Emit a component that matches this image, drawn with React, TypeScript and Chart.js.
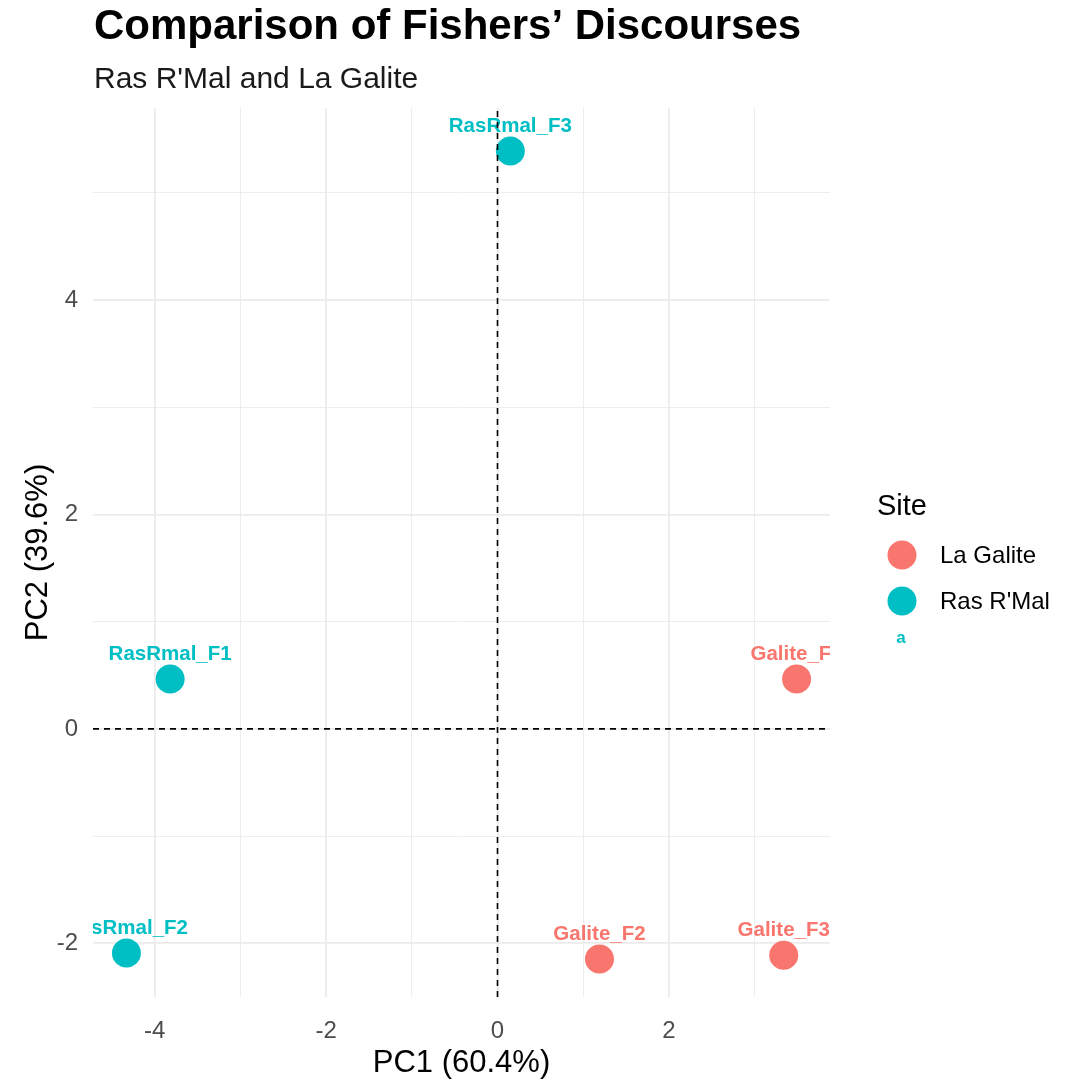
import React, { useEffect, useRef } from 'react';
import { Chart, registerables } from 'chart.js';

Chart.register(...registerables);

// ---- data ----
const siteNames = ['La Galite', "Ras R'Mal"];
const siteColors = ['#F8766D', '#00BFC4'];
const galiteLabels = ['Galite_F1', 'Galite_F2', 'Galite_F3'];
const galiteX = [3.49, 1.19, 3.34];
const galiteY = [0.466, -2.145, -2.11];
const rasLabels = ['RasRmal_F1', 'RasRmal_F2', 'RasRmal_F3'];
const rasX = [-3.82, -4.33, 0.15];
const rasY = [0.466, -2.09, 5.39];
const xLimits = [-4.72, 3.88];
const yLimits = [-2.5, 5.79];
const titleText = 'Comparison of Fishers\u2019 Discourses';
const subtitleText = "Ras R'Mal and La Galite";
const xTitle = 'PC1 (60.4%)';
const yTitle = 'PC2 (39.6%)';
const legendTitle = 'Site';
const legendKeyText = 'a';

const FONT = "'Liberation Sans', Arial, Helvetica, sans-serif";

const toPoints = (xs: number[], ys: number[]) => xs.map((x, i) => ({ x, y: ys[i] }));

const pointLabelPlugin = {
  id: 'pointLabels',
  afterDatasetDraw(chart: any, args: any) {
    const ds = chart.data.datasets[args.index];
    if (!ds.pointLabels) return;
    const { ctx, chartArea } = chart;
    ctx.save();
    ctx.beginPath();
    ctx.rect(chartArea.left, chartArea.top, chartArea.right - chartArea.left, chartArea.bottom - chartArea.top);
    ctx.clip();
    ctx.font = `bold 20.5px ${FONT}`;
    ctx.fillStyle = ds.backgroundColor;
    ctx.textAlign = 'center';
    ctx.textBaseline = 'middle';
    args.meta.data.forEach((el: any, i: number) => {
      ctx.fillText(ds.pointLabels[i], el.x, el.y - 25);
    });
    ctx.restore();
  },
};

const decorPlugin = {
  id: 'decor',
  afterDraw(chart: any) {
    const { ctx } = chart;
    ctx.save();
    ctx.textAlign = 'left';
    ctx.textBaseline = 'alphabetic';
    ctx.fillStyle = '#000000';
    ctx.font = `bold 42px ${FONT}`;
    ctx.fillText(titleText, 94, 39);
    ctx.font = `30px ${FONT}`;
    ctx.fillStyle = '#1a1a1a';
    ctx.fillText(subtitleText, 94, 88);

    // legend
    ctx.fillStyle = '#000000';
    ctx.font = `29px ${FONT}`;
    ctx.fillText(legendTitle, 877, 515);
    const keyY = [555, 601];
    siteNames.forEach((name, i) => {
      ctx.beginPath();
      ctx.arc(902, keyY[i], 14.5, 0, Math.PI * 2);
      ctx.fillStyle = siteColors[i];
      ctx.fill();
      ctx.fillStyle = '#000000';
      ctx.font = `24px ${FONT}`;
      ctx.textBaseline = 'middle';
      ctx.fillText(name, 940, keyY[i] + 1);
    });
    ctx.font = `bold 17px ${FONT}`;
    ctx.fillStyle = siteColors[1];
    ctx.textAlign = 'center';
    ctx.fillText(legendKeyText, 901, 638);
    ctx.restore();
  },
};

export default function App() {
  const ref = useRef<HTMLCanvasElement | null>(null);

  useEffect(() => {
    if (!ref.current) return;
    const gridColor = (c: any) => '#EBEBEB';
    const gridWidth = (c: any) => {
      const v = c.tick ? c.tick.value : 0;
      return Math.abs(v % 2) < 1e-9 ? 1.8 : 0.9;
    };
    const chart = new Chart(ref.current, {
      type: 'scatter',
      data: {
        datasets: [
          {
            label: 'vline',
            data: [
              { x: 0, y: yLimits[0] },
              { x: 0, y: yLimits[1] },
            ],
            showLine: true,
            borderColor: '#000000',
            borderWidth: 1.6,
            borderDash: [6, 5],
            pointRadius: 0,
            pointHoverRadius: 0,
          } as any,
          {
            label: 'hline',
            data: [
              { x: xLimits[0], y: 0 },
              { x: xLimits[1], y: 0 },
            ],
            showLine: true,
            borderColor: '#000000',
            borderWidth: 1.6,
            borderDash: [6, 5],
            pointRadius: 0,
            pointHoverRadius: 0,
          } as any,
          {
            label: siteNames[0],
            data: toPoints(galiteX, galiteY),
            backgroundColor: siteColors[0],
            borderColor: siteColors[0],
            pointRadius: 14.5,
            borderWidth: 0,
            pointLabels: galiteLabels,
          } as any,
          {
            label: siteNames[1],
            data: toPoints(rasX, rasY),
            backgroundColor: siteColors[1],
            borderColor: siteColors[1],
            pointRadius: 14.5,
            borderWidth: 0,
            pointLabels: rasLabels,
          } as any,
        ],
      },
      options: {
        animation: false,
        responsive: false,
        devicePixelRatio: 1,
        layout: { padding: { top: 108, right: 243, left: 0, bottom: 0 } },
        plugins: {
          legend: { display: false },
          tooltip: { enabled: false },
          title: { display: false },
        },
        scales: {
          x: {
            type: 'linear',
            min: xLimits[0],
            max: xLimits[1],
            afterFit: (s: any) => {
              s.height = 85;
            },
            border: { display: false },
            grid: { color: gridColor, lineWidth: gridWidth, drawTicks: false },
            ticks: {
              stepSize: 1,
              includeBounds: false,
              autoSkip: false,
              maxRotation: 0,
              padding: 20,
              color: '#4D4D4D',
              font: { family: FONT, size: 24 },
              callback: (v: any) => (Math.abs(Number(v) % 2) < 1e-9 ? String(v) : ''),
            },
            title: {
              display: true,
              text: xTitle,
              color: '#000000',
              font: { family: FONT, size: 31 },
              padding: { top: 1, bottom: 0 },
            },
          },
          y: {
            type: 'linear',
            min: yLimits[0],
            max: yLimits[1],
            afterFit: (s: any) => {
              s.width = 93;
            },
            border: { display: false },
            grid: { color: gridColor, lineWidth: gridWidth, drawTicks: false },
            ticks: {
              stepSize: 1,
              includeBounds: false,
              autoSkip: false,
              padding: 15,
              color: '#4D4D4D',
              font: { family: FONT, size: 24 },
              callback: (v: any) => (Math.abs(Number(v) % 2) < 1e-9 ? String(v) : ''),
            },
            title: {
              display: true,
              text: yTitle,
              color: '#000000',
              font: { family: FONT, size: 31 },
              padding: { top: 20, bottom: 20 },
            },
          },
        },
      },
      plugins: [pointLabelPlugin, decorPlugin],
    } as any);
    return () => chart.destroy();
  }, []);

  return (
    <div style={{ position: 'absolute', left: 0, top: 0, width: 1073, height: 1082, background: '#ffffff' }}>
      <canvas ref={ref} width={1073} height={1082} style={{ display: 'block', width: 1073, height: 1082 }} />
    </div>
  );
}
